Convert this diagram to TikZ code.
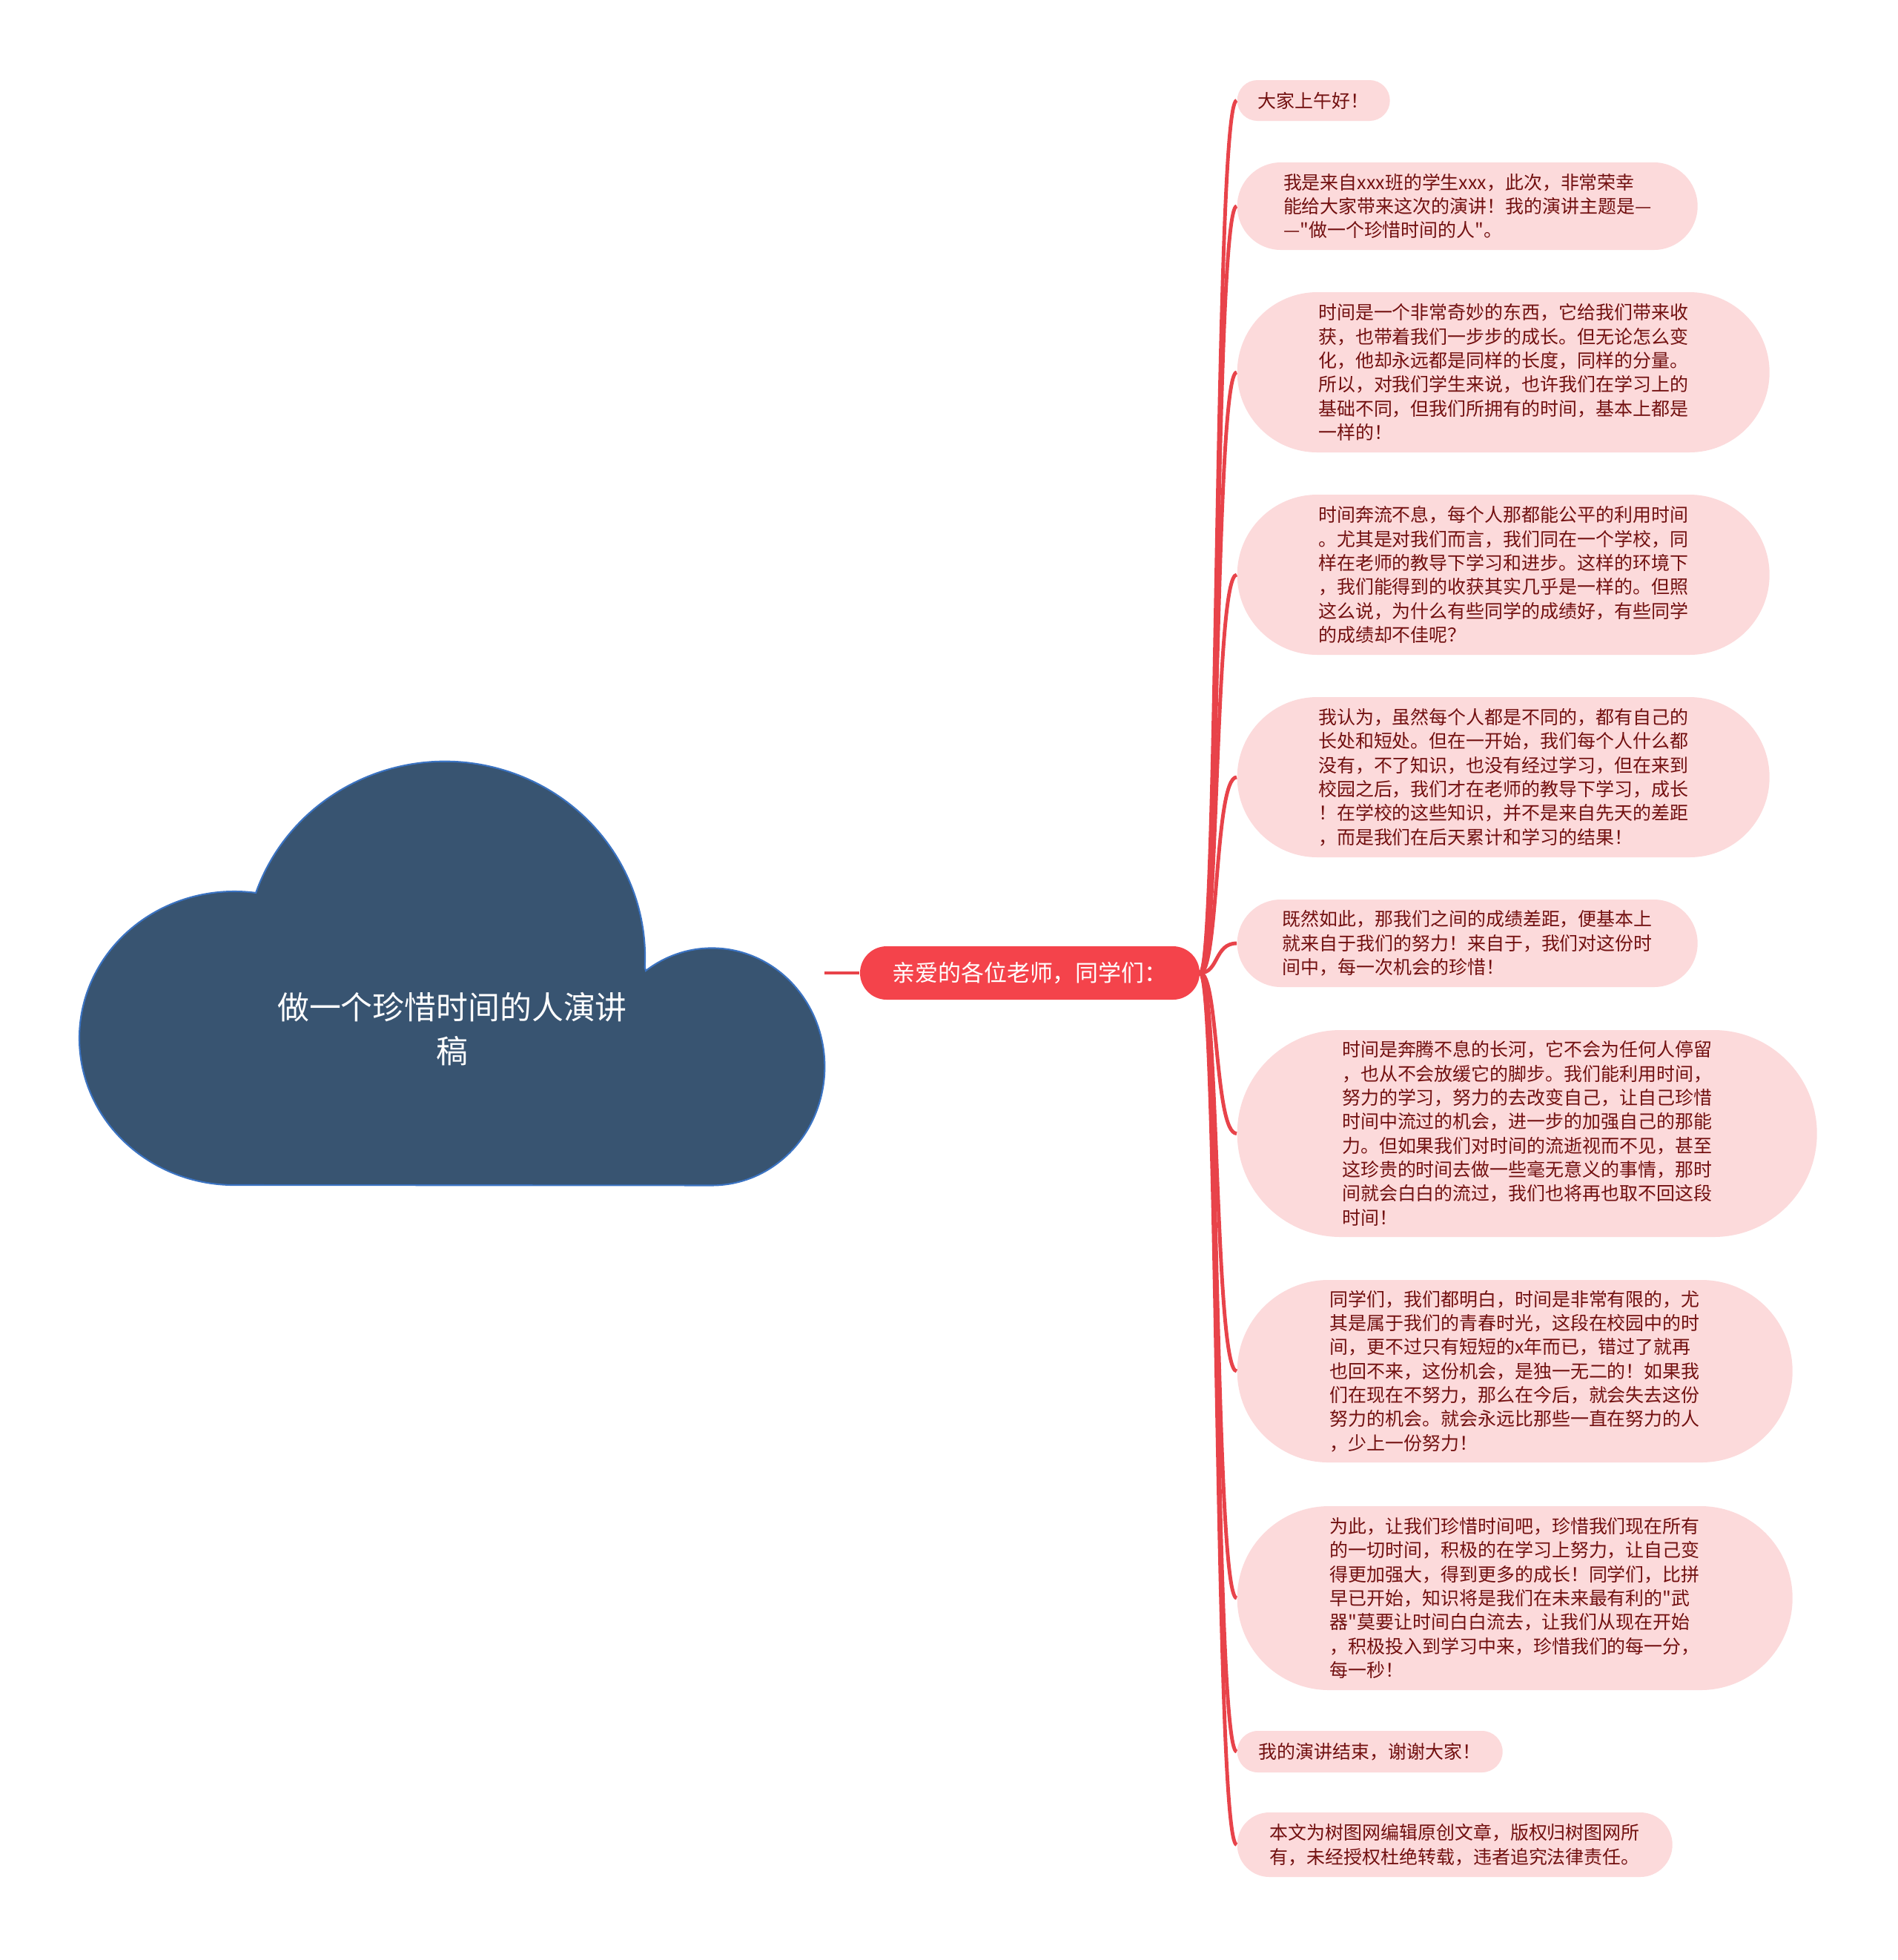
\documentclass[tikz,border=0pt]{standalone}
\usepackage{fontspec}
\setmainfont{Noto Sans CJK SC}[Ligatures=TeXOff]

\definecolor{cloudblue}{HTML}{385471}
\definecolor{cloudline}{HTML}{3B73C2}
\definecolor{salutered}{HTML}{F4434B}
\definecolor{branchred}{HTML}{E8434A}
\definecolor{leafpink}{HTML}{FCDADB}
\definecolor{leaftext}{HTML}{721010}

\begin{document}
\begin{tikzpicture}[
    % Box styles (title, main branch and leaves)
    topic/.style={text=white, font=\fontsize{12.2}{16.8}\selectfont, align=center, inner sep=0pt},
    mainbox/.style={fill=salutered, text=white, font=\fontsize{8.8}{10}\selectfont, minimum width=4.58cm, minimum height=0.72cm, rounded corners=0.36cm, inner sep=0pt},
    leaf/.style={fill=leafpink, text=leaftext, font=\fontsize{7.1}{9.2}\selectfont, align=left, anchor=west, inner sep=0pt, minimum height=#1, rounded corners=#1/2},
    cloudshape/.style={fill=cloudblue, draw=cloudline, line width=0.6pt},
    branch/.style={line width=1.4pt, draw=branchred}
]

% page
\fill[white] (0,0) rectangle (25.6,-26.43);
\useasboundingbox (0,0) rectangle (25.6,-26.43);

% ---------------------------------------------------------
% 1. CLOUD (root)
% ---------------------------------------------------------
\draw[cloudshape] (3.16,-15.98)
    arc[start angle=270, end angle=82, x radius=2.09, y radius=1.98]
    arc[start angle=160.8, end angle=-3, x radius=2.7, y radius=2.64]
    -- (8.71,-13.09)
    arc[start angle=126, end angle=-90, x radius=1.52, y radius=1.6]
    -- cycle;
\node[topic] (title) at (6.10,-13.88) {做一个珍惜时间的人演讲\\稿};
\coordinate (cloudtip) at (11.12,-13.12);

% ---------------------------------------------------------
% 2. MAIN BRANCH
% ---------------------------------------------------------
\node[mainbox] (salute) at (13.89,-13.12) {亲爱的各位老师，同学们：};
\draw[branch] (cloudtip) -- (salute.west);

% ---------------------------------------------------------
% 3. LEAVES
% ---------------------------------------------------------
\node[leaf=0.55cm, minimum width=2.06cm] (hello) at (16.68,-1.355) {大家上午好！};

\node[leaf=1.18cm, minimum width=6.21cm] (intro) at (16.68,-2.78) {我是来自xxx班的学生xxx，此次，非常荣幸\\能给大家带来这次的演讲！我的演讲主题是—\\—"做一个珍惜时间的人"。};

\node[leaf=2.16cm, minimum width=7.18cm] (gift) at (16.68,-5.02) {时间是一个非常奇妙的东西，它给我们带来收\\获，也带着我们一步步的成长。但无论怎么变\\化，他却永远都是同样的长度，同样的分量。\\所以，对我们学生来说，也许我们在学习上的\\基础不同，但我们所拥有的时间，基本上都是\\一样的！};

\node[leaf=2.16cm, minimum width=7.18cm] (fair) at (16.68,-7.75) {时间奔流不息，每个人那都能公平的利用时间\\。尤其是对我们而言，我们同在一个学校，同\\样在老师的教导下学习和进步。这样的环境下\\，我们能得到的收获其实几乎是一样的。但照\\这么说，为什么有些同学的成绩好，有些同学\\的成绩却不佳呢？};

\node[leaf=2.16cm, minimum width=7.18cm] (effort) at (16.68,-10.48) {我认为，虽然每个人都是不同的，都有自己的\\长处和短处。但在一开始，我们每个人什么都\\没有，不了知识，也没有经过学习，但在来到\\校园之后，我们才在老师的教导下学习，成长\\！在学校的这些知识，并不是来自先天的差距\\，而是我们在后天累计和学习的结果！};

\node[leaf=1.18cm, minimum width=6.21cm] (gap) at (16.68,-12.72) {既然如此，那我们之间的成绩差距，便基本上\\就来自于我们的努力！来自于，我们对这份时\\间中，每一次机会的珍惜！};

\node[leaf=2.79cm, minimum width=7.82cm] (river) at (16.68,-15.285) {时间是奔腾不息的长河，它不会为任何人停留\\，也从不会放缓它的脚步。我们能利用时间，\\努力的学习，努力的去改变自己，让自己珍惜\\时间中流过的机会，进一步的加强自己的那能\\力。但如果我们对时间的流逝视而不见，甚至\\这珍贵的时间去做一些毫无意义的事情，那时\\间就会白白的流过，我们也将再也取不回这段\\时间！};

\node[leaf=2.46cm, minimum width=7.49cm] (youth) at (16.68,-18.49) {同学们，我们都明白，时间是非常有限的，尤\\其是属于我们的青春时光，这段在校园中的时\\间，更不过只有短短的x年而已，错过了就再\\也回不来，这份机会，是独一无二的！如果我\\们在现在不努力，那么在今后，就会失去这份\\努力的机会。就会永远比那些一直在努力的人\\，少上一份努力！};

\node[leaf=2.48cm, minimum width=7.49cm] (cherish) at (16.68,-21.55) {为此，让我们珍惜时间吧，珍惜我们现在所有\\的一切时间，积极的在学习上努力，让自己变\\得更加强大，得到更多的成长！同学们，比拼\\早已开始，知识将是我们在未来最有利的"武\\器"莫要让时间白白流去，让我们从现在开始\\，积极投入到学习中来，珍惜我们的每一分，\\每一秒！};

\node[leaf=0.56cm, minimum width=3.58cm] (thanks) at (16.68,-23.62) {我的演讲结束，谢谢大家！};

\node[leaf=0.87cm, minimum width=5.87cm] (notice) at (16.68,-24.875) {本文为树图网编辑原创文章，版权归树图网所\\有，未经授权杜绝转载，违者追究法律责任。};

% ---------------------------------------------------------
% 4. BRANCH LINES
% ---------------------------------------------------------
\foreach \leafname in {hello,intro,gift,fair,effort,gap,river,youth,cherish,thanks,notice}
    \draw[branch] (salute.east) .. controls +(0.25,0) and +(-0.3,0) .. (\leafname.west);

\end{tikzpicture}
\end{document}
